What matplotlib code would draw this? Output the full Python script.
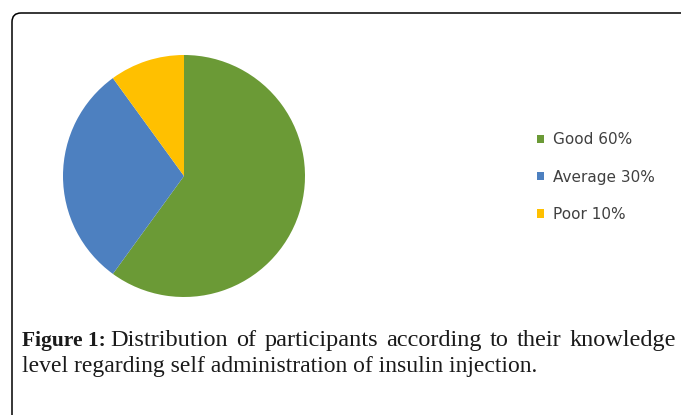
import matplotlib.pyplot as plt
from matplotlib.patches import FancyBboxPatch
from matplotlib.transforms import IdentityTransform

# data
categories = ['Good', 'Average', 'Poor']
percent = [60, 30, 10]
colors = ['#6B9A36', '#4D80C0', '#FFC000']
labels = [f'{c} {p}%' for c, p in zip(categories, percent)]

W, H = 681, 415
fig = plt.figure(figsize=(W / 100, H / 100), dpi=100)

# rounded frame (pixels)
frame = FancyBboxPatch((12, -30), 720, 415 - 13 + 30, boxstyle='round,pad=0,rounding_size=9',
                       transform=IdentityTransform(), fill=False, edgecolor='black', linewidth=1.1)
fig.add_artist(frame)

# pie, centre (184,176), radius 121 px
cx, cy, r = 184, 176, 121
ax = fig.add_axes([(cx - r) / W, (H - cy - r) / H, 2 * r / W, 2 * r / H])
wedges, _ = ax.pie(percent, colors=colors, startangle=90, counterclock=False,
                   wedgeprops=dict(linewidth=0))
ax.set_xlim(-1, 1)
ax.set_ylim(-1, 1)
ax.set_aspect('equal')

fig.legend(wedges, labels, loc='center left', bbox_to_anchor=(523 / W, 1 - 177 / H),
           frameon=False, labelcolor='#404040', prop={'family': 'DejaVu Sans', 'size': 11},
           handlelength=0.5, handleheight=0.5, handletextpad=0.55, labelspacing=1.45)

# caption, first line justified
cap = dict(family='Liberation Serif', fontsize=17, color='#1a1a1a', va='baseline')
t1 = fig.text(22 / W, 1 - 346 / H, 'Figure 1:', fontweight='bold',
              **{**cap, 'fontsize': 15.5})
fig.canvas.draw()
rend = fig.canvas.get_renderer()
x0 = t1.get_window_extent(rend).x1 + 5
words = 'Distribution of participants according to their knowledge'.split()
txts = [fig.text(0, 1 - 346 / H, w, **{**cap, 'fontsize': 17.5}) for w in words]
widths = [t.get_window_extent(rend).width for t in txts]
gap = (676 - x0 - sum(widths)) / (len(words) - 1)
x = x0
for t, w in zip(txts, widths):
    t.set_x(x / W)
    x += w + gap
fig.text(22 / W, 1 - 372 / H,
         'level regarding self administration of insulin injection.', **cap)

fig.savefig('out.png', dpi=100)
